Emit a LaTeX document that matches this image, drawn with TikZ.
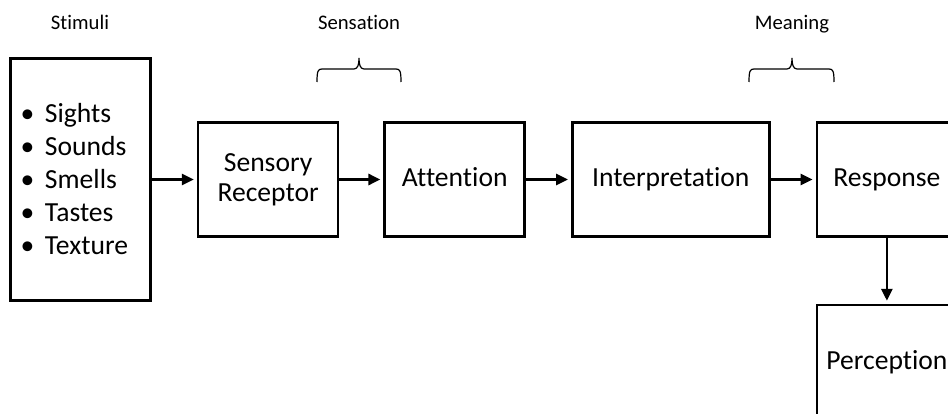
\documentclass[tikz,border=0pt]{standalone}
\usepackage{fontspec}
\setmainfont{Carlito}[Ligatures=NoCommon]
\usetikzlibrary{arrows.meta, positioning}
\tikzset{
    block/.style={rectangle, draw, line width=2.6pt, align=center, minimum width=140pt, minimum height=114pt, font=\fontsize{27.6}{30}\selectfont},
    oneline/.style={text height=20.5pt, text depth=5.5pt},
    arrow/.style={line width=2.8pt, -{Triangle[length=12pt, width=11pt]}, shorten >=3pt},
    heading/.style={anchor=base, font=\fontsize{20.7}{25}\selectfont},
    bracket/.style={line width=1.2pt}
}

\begin{document}
\begin{tikzpicture}[x=1pt, y=-1pt, node distance=45pt]
            \useasboundingbox (0,0) rectangle (948,414);
            \clip (0,0) rectangle (948,414);

            \node[block, minimum height=242pt, text width=120pt, align=left, font=\fontsize{27.6}{33}\selectfont] (stimuli) at (80.5,179.5) {\makebox[24.5pt][l]{\textbullet}Sights\\ \makebox[24.5pt][l]{\textbullet}Sounds\\ \makebox[24.5pt][l]{\textbullet}Smells\\ \makebox[24.5pt][l]{\textbullet}Tastes\\ \makebox[24.5pt][l]{\textbullet}Texture};
            \node[block, right=of stimuli] (sensory) {Sensory\\Receptor};
            \node[block, oneline, right=44pt of sensory] (attention) {Attention};
            \node[block, oneline, minimum width=197pt, right=of attention] (interp) {Interpretation};
            \node[block, oneline, right=of interp] (response) {Response};
            \node[block, oneline, below=66pt of response] (perception) {Perception};

            \node[heading] (stimulihead) at (80,30) {Stimuli};
            \node[heading] (sensationhead) at (359,30) {Sensation};
            \node[heading] (meaninghead) at (792,30) {Meaning};

            \coordinate (sensL) at (317,82);
            \coordinate (meanL) at (749,82);
            \draw[bracket] (sensL) .. controls +(0,-11) and +(-4,0) .. ++(5,-13) -- ++(32,0) .. controls +(4,0) and +(0,6) .. ++(5,-11) .. controls +(0,6) and +(-4,0) .. ++(5,11) -- ++(32,0) .. controls +(4,0) and +(0,-11) .. ++(5,13);
            \draw[bracket] (meanL) .. controls +(0,-11) and +(-4,0) .. ++(5,-13) -- ++(33,0) .. controls +(4,0) and +(0,6) .. ++(5,-11) .. controls +(0,6) and +(-4,0) .. ++(5,11) -- ++(32,0) .. controls +(4,0) and +(0,-11) .. ++(5,13);

            \draw[arrow] (stimuli) -- (sensory);
            \draw[arrow] (sensory) -- (attention);
            \draw[arrow] (attention) -- (interp);
            \draw[arrow] (interp) -- (response);
            \draw[arrow] (response) -- (perception);
        \end{tikzpicture}
\end{document}
